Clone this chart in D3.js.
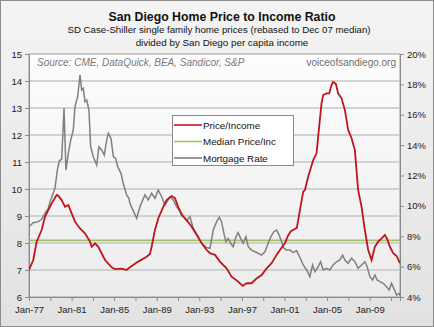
<!DOCTYPE html>
<html>
<head>
<meta charset="utf-8">
<script src="https://cdn.jsdelivr.net/npm/d3@7"></script>
<style>
  body { margin: 0; background: #fff; }
  svg { display: block; font-family: "Liberation Sans", Arial, sans-serif; }
</style>
</head>
<body>
<div id="chart"></div>
<script>
// Price / income ratio (left axis), decimal years
var priceYears = [1977.0, 1977.4, 1977.72, 1978.19, 1978.5, 1978.81, 1979.13, 1979.6, 1979.75, 1980.07,
  1980.38, 1980.69, 1981.01, 1981.32, 1981.79, 1982.26, 1982.73, 1982.89, 1983.2, 1983.51,
  1984.14, 1984.77, 1985.08, 1985.7, 1986.17, 1986.48, 1987.26, 1988.05, 1988.36, 1988.52,
  1988.83, 1989.14, 1989.61, 1989.93, 1990.4, 1990.71, 1991.02, 1991.34, 1991.81, 1992.28,
  1992.75, 1993.22, 1993.69, 1994.0, 1994.47, 1994.93, 1995.56, 1996.03, 1996.65, 1997.07,
  1997.44, 1997.91, 1998.38, 1998.85, 1999.32, 1999.79, 2000.26, 2000.57, 2001.04, 2001.32,
  2001.6, 2001.97, 2002.16, 2002.45, 2002.76, 2002.92, 2003.23, 2003.7, 2004.01, 2004.32,
  2004.48, 2004.63, 2004.95, 2005.2, 2005.42, 2005.57, 2005.83, 2006.04, 2006.36, 2006.67,
  2006.98, 2007.3, 2007.61, 2007.92, 2008.24, 2008.55, 2008.86, 2009.18, 2009.49, 2009.8,
  2010.12, 2010.43, 2010.65, 2010.9, 2011.21, 2011.53, 2011.84];
var priceIncome = [7.0, 7.37, 8.05, 8.48, 8.97, 9.22, 9.47, 9.78, 9.75, 9.59,
  9.34, 9.41, 9.10, 8.79, 8.54, 8.36, 8.05, 7.86, 7.99, 7.86,
  7.37, 7.10, 7.03, 7.05, 7.0, 7.10, 7.31, 7.49, 7.59, 7.86,
  8.48, 8.91, 9.34, 9.59, 9.74, 9.66, 9.34, 9.04, 8.85, 8.60,
  8.30, 7.99, 7.74, 7.62, 7.56, 7.31, 7.06, 6.75, 6.57, 6.41,
  6.51, 6.51, 6.69, 6.81, 7.06, 7.25, 7.56, 7.74, 7.99, 8.26,
  8.44, 8.52, 8.56, 9.22, 9.90, 9.96, 10.46, 11.07, 11.32, 12.56,
  13.17, 13.48, 13.54, 13.54, 13.85, 13.97, 13.89, 13.54, 13.36, 12.93,
  12.19, 11.88, 11.44, 9.96, 9.34, 8.48, 7.74, 7.37, 7.86, 8.05,
  8.17, 8.30, 8.14, 7.86, 7.62, 7.52, 7.25];

// Median price/income (left axis)
var medianRatio = 8.1;

// 30-year mortgage rate, % (right axis)
var rateYears = [1977.0, 1977.4, 1977.87, 1978.19, 1978.5, 1978.81, 1979.0, 1979.44, 1979.66, 1979.85,
  1980.07, 1980.29, 1980.47, 1980.69, 1980.92, 1981.16, 1981.32, 1981.57, 1981.79, 1981.95,
  1982.1, 1982.26, 1982.42, 1982.63, 1982.79, 1983.04, 1983.36, 1983.57, 1983.83, 1984.07,
  1984.3, 1984.45, 1984.7, 1984.92, 1985.14, 1985.33, 1985.64, 1985.85, 1986.17, 1986.39,
  1986.48, 1987.11, 1987.42, 1987.89, 1988.2, 1988.52, 1988.83, 1989.14, 1989.46, 1989.77,
  1990.24, 1990.55, 1990.87, 1991.34, 1991.81, 1992.12, 1992.43, 1992.9, 1993.22, 1993.69,
  1994.0, 1994.31, 1994.63, 1994.87, 1995.09, 1995.31, 1995.5, 1995.71, 1995.94, 1996.18,
  1996.44, 1996.65, 1996.88, 1997.12, 1997.38, 1997.59, 1997.91, 1998.22, 1998.53, 1998.85,
  1999.16, 1999.47, 1999.72, 2000.0, 2000.26, 2000.5, 2000.73, 2000.94, 2001.2, 2001.51,
  2001.82, 2002.14, 2002.45, 2002.76, 2003.08, 2003.38, 2003.64, 2003.85, 2004.16, 2004.39,
  2004.63, 2004.95, 2005.26, 2005.57, 2005.89, 2006.2, 2006.46, 2006.67, 2006.98, 2007.3,
  2007.61, 2007.92, 2008.24, 2008.55, 2008.77, 2009.02, 2009.27, 2009.49, 2009.7, 2009.96,
  2010.27, 2010.59, 2010.83, 2011.05, 2011.27, 2011.53, 2011.77, 2011.88];
var mortgageRate = [8.63, 8.89, 8.96, 9.12, 9.51, 9.84, 10.3, 11.16, 12.36, 12.97,
  13.07, 16.42, 12.36, 13.46, 14.34, 15.0, 16.53, 17.19, 18.62, 17.63,
  17.74, 16.86, 16.97, 16.31, 13.89, 13.24, 12.69, 13.89, 13.68, 13.35,
  14.34, 14.78, 14.45, 13.24, 13.13, 12.58, 12.14, 11.49, 10.72, 10.50,
  10.17, 9.18, 9.94, 10.72, 10.39, 10.83, 10.50, 11.04, 10.60, 10.06,
  10.60, 10.39, 9.94, 9.51, 9.00, 9.29, 8.52, 7.97, 7.54, 7.26,
  7.21, 8.41, 8.96, 9.25, 8.96, 8.19, 7.64, 7.86, 7.54, 7.31,
  7.97, 8.23, 7.86, 7.54, 7.97, 7.31, 7.09, 6.98, 6.88, 6.76,
  6.98, 7.54, 7.97, 8.30, 8.41, 8.08, 7.64, 7.21, 7.09, 7.09,
  6.93, 7.04, 6.60, 6.11, 5.78, 5.34, 6.11, 5.67, 5.99, 6.32,
  5.78, 5.89, 5.78, 6.11, 6.32, 6.44, 6.76, 6.44, 6.22, 6.55,
  6.32, 5.89, 6.11, 6.32, 5.99, 5.34, 5.12, 5.45, 5.12, 5.01,
  4.90, 4.68, 4.46, 4.90, 4.57, 4.13, 4.24, 4.07];

var leftTicks = [6, 7, 8, 9, 10, 11, 12, 13, 14, 15];
var rightTicks = [4, 6, 8, 10, 12, 14, 16, 18, 20];
var yearLabels = [1977, 1981, 1985, 1989, 1993, 1997, 2001, 2005, 2009];
var legendNames = ["Price/Income", "Median Price/Inc", "Mortgage Rate"];

var width = 434, height = 327;
var plot = { left: 29, right: 400, top: 54, bottom: 297 };

var colRed = "#c0141c", colGreen = "#a2c064", colGray = "#808080";

var svg = d3.select("#chart").append("svg")
  .attr("width", width)
  .attr("height", height);

var defs = svg.append("defs");
var bgGrad = defs.append("linearGradient").attr("id", "bgGrad")
  .attr("x1", 0).attr("y1", 0).attr("x2", 0).attr("y2", 1);
bgGrad.append("stop").attr("offset", "0%").attr("stop-color", "#f4f4f4");
bgGrad.append("stop").attr("offset", "100%").attr("stop-color", "#e2e2e2");
var plotGrad = defs.append("linearGradient").attr("id", "plotGrad")
  .attr("x1", 0).attr("y1", 0).attr("x2", 0).attr("y2", 1);
plotGrad.append("stop").attr("offset", "0%").attr("stop-color", "#fdfdfd");
plotGrad.append("stop").attr("offset", "100%").attr("stop-color", "#ececec");

// chart background + frame
svg.append("rect")
  .attr("x", 0.5).attr("y", 0.5)
  .attr("width", width - 1).attr("height", height - 1)
  .attr("fill", "url(#bgGrad)")
  .attr("stroke", "#8c8c8c");

svg.append("rect")
  .attr("x", plot.left).attr("y", plot.top)
  .attr("width", plot.right - plot.left).attr("height", plot.bottom - plot.top)
  .attr("fill", "url(#plotGrad)")
  .attr("stroke", "#9a9a9a");

// scales
var xScale = d3.scaleLinear().domain([1977, 2011.85]).range([plot.left, plot.right]);
var yLeft = d3.scaleLinear().domain([6, 15]).range([plot.bottom, plot.top]);
var yRight = d3.scaleLinear().domain([4, 20]).range([plot.bottom, plot.top]);

// gridlines
svg.append("g")
  .selectAll("line")
  .data(leftTicks.slice(1, -1))
  .enter()
  .append("line")
  .attr("x1", plot.left).attr("x2", plot.right)
  .attr("y1", function (d) { return yLeft(d); })
  .attr("y2", function (d) { return yLeft(d); })
  .attr("stroke", "#c6c6c6")
  .attr("stroke-width", 1.5);

// axes
var xAxis = d3.axisBottom(xScale)
  .tickValues(d3.range(1977, 2012, 2))
  .tickSize(4)
  .tickFormat(function (d) {
    return yearLabels.indexOf(d) >= 0 ? "Jan-" + String(d).slice(2) : "";
  });
var leftAxis = d3.axisLeft(yLeft).tickValues(leftTicks).tickSize(4).tickFormat(d3.format("d"));
var rightAxis = d3.axisRight(yRight).tickValues(rightTicks).tickSize(4)
  .tickFormat(function (d) { return d + "%"; });

function styleAxis(g) {
  g.select(".domain").attr("stroke", "#8a8a8a");
  g.selectAll(".tick line").attr("stroke", "#8a8a8a");
  g.selectAll(".tick text").attr("fill", "#222").attr("font-size", 9.5)
    .attr("font-family", "Liberation Sans, Arial, sans-serif");
}

svg.append("g")
  .attr("transform", "translate(0," + plot.bottom + ")")
  .call(xAxis)
  .call(styleAxis)
  .call(function (g) { g.selectAll(".tick text").attr("dy", "0.95em"); });

svg.append("g")
  .attr("transform", "translate(" + plot.left + ",0)")
  .call(leftAxis)
  .call(styleAxis);

svg.append("g")
  .attr("transform", "translate(" + plot.right + ",0)")
  .call(rightAxis)
  .call(styleAxis);

// source texts
svg.append("text")
  .attr("x", 37).attr("y", 66)
  .attr("font-size", 10).attr("font-style", "italic")
  .attr("fill", "#7a7a7a")
  .text("Source: CME, DataQuick, BEA, Sandicor, S&P");

svg.append("text")
  .attr("x", 396).attr("y", 66)
  .attr("text-anchor", "end")
  .attr("font-size", 10)
  .attr("fill", "#6e6e6e")
  .text("voiceofsandiego.org");

// lines
var clip = defs.append("clipPath").attr("id", "plotClip");
clip.append("rect")
  .attr("x", plot.left).attr("y", plot.top)
  .attr("width", plot.right - plot.left).attr("height", plot.bottom - plot.top);

var lines = svg.append("g").attr("clip-path", "url(#plotClip)");

var rateLine = d3.line()
  .x(function (d, i) { return xScale(rateYears[i]); })
  .y(function (d) { return yRight(d); });

var priceLine = d3.line()
  .x(function (d, i) { return xScale(priceYears[i]); })
  .y(function (d) { return yLeft(d); });

lines.append("line")
  .attr("x1", plot.left).attr("x2", plot.right)
  .attr("y1", yLeft(medianRatio)).attr("y2", yLeft(medianRatio))
  .attr("stroke", colGreen)
  .attr("stroke-width", 1.8);

lines.append("path")
  .datum(mortgageRate)
  .attr("d", rateLine)
  .attr("fill", "none")
  .attr("stroke", colGray)
  .attr("stroke-width", 1.5);

lines.append("path")
  .datum(priceIncome)
  .attr("d", priceLine)
  .attr("fill", "none")
  .attr("stroke", colRed)
  .attr("stroke-width", 1.8);

// titles
svg.append("text")
  .attr("x", 222).attr("y", 21)
  .attr("text-anchor", "middle")
  .attr("font-size", 12.3).attr("font-weight", "bold")
  .attr("fill", "#111")
  .text("San Diego Home Price to Income Ratio");

svg.append("text")
  .attr("x", 219).attr("y", 33)
  .attr("text-anchor", "middle")
  .attr("font-size", 9.7)
  .attr("fill", "#111")
  .text("SD Case-Shiller single family home prices (rebased to Dec 07 median)");

svg.append("text")
  .attr("x", 222).attr("y", 45.5)
  .attr("text-anchor", "middle")
  .attr("font-size", 9.8)
  .attr("fill", "#111")
  .text("divided by San Diego per capita income");

// legend
var legend = svg.append("g").attr("transform", "translate(172,115)");
legend.append("rect")
  .attr("x", 0.5).attr("y", 0.5)
  .attr("width", 121).attr("height", 50)
  .attr("fill", "#fff")
  .attr("stroke", "#8a8a8a");

var legendColors = [colRed, colGreen, colGray];
var rows = legend.selectAll("g.row")
  .data(legendNames)
  .enter()
  .append("g")
  .attr("class", "row")
  .attr("transform", function (d, i) { return "translate(0," + (10 + i * 16.5) + ")"; });

rows.append("line")
  .attr("x1", 2).attr("x2", 30)
  .attr("stroke", function (d, i) { return legendColors[i]; })
  .attr("stroke-width", 1.6);

rows.append("text")
  .attr("x", 31).attr("y", 3.5)
  .attr("font-size", 9.8)
  .attr("fill", "#111")
  .text(function (d) { return d; });
</script>
</body>
</html>
